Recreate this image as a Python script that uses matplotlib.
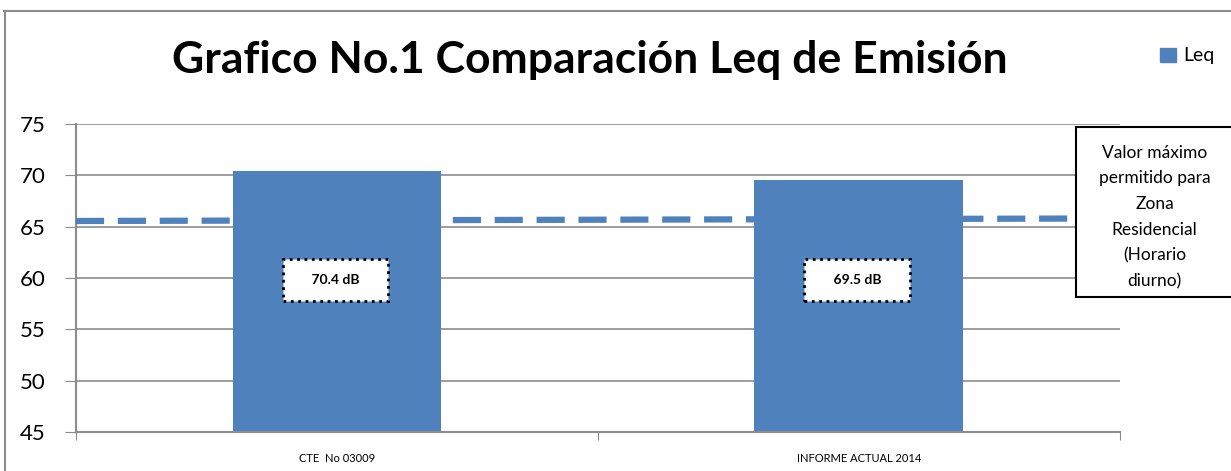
import matplotlib.pyplot as plt
from matplotlib.patches import Rectangle

plt.rcParams['font.family'] = ['Lato', 'DejaVu Sans']

# data
categories = ["CTE  No 03009", "INFORME ACTUAL 2014"]
leq = [70.4, 69.5]
bar_labels = ["70.4 dB", "69.5 dB"]
limit_x = [-0.5, 1.5]
limit_y = [65.55, 65.8]
y_ticks = [45, 50, 55, 60, 65, 70, 75]

blue = "#4F81BD"
grid_gray = "#8C8C8C"

fig = plt.figure(figsize=(12.31, 4.71), dpi=100)

# outer chart frame
fig.add_artist(plt.Line2D([0.003, 1.0], [0.977, 0.977], color="#8C8C8C", lw=1.5))
fig.add_artist(plt.Line2D([0.004, 0.004], [0.0, 0.977], color="#8C8C8C", lw=1.5))

ax = fig.add_axes([0.0617, 0.0828, 0.848, 0.654])
x = list(range(len(categories)))
ax.bar(x, leq, width=0.4, color=blue, zorder=2)
ax.plot(limit_x, limit_y, color=blue, lw=4.5, dashes=(4.5, 2.2), zorder=3)

for xi, lab in zip(x, bar_labels):
    ax.text(xi - 0.003, 59.8, "    " + lab + "    ", ha="center", va="center", fontsize=10,
            fontweight="bold", zorder=4,
            bbox=dict(boxstyle="square,pad=1.1", fc="white", ec="black", ls=":", lw=2))

ax.set_xlim(-0.5, 1.5)
ax.set_ylim(45, 75)
ax.set_yticks(y_ticks)
ax.set_yticklabels([str(v) for v in y_ticks], fontsize=16)
ax.set_xticks([-0.5, 0.5, 1.5])
ax.set_xticklabels([])
ax.set_xticks(x, minor=True)
ax.set_xticklabels(categories, minor=True, fontsize=8)
ax.tick_params(axis="x", which="minor", length=0, pad=15)
ax.tick_params(axis="x", which="major", length=6, color=grid_gray, direction="out")
ax.tick_params(axis="y", length=8, color=grid_gray, pad=14)
ax.yaxis.grid(True, color=grid_gray, lw=1.2, zorder=0)
ax.set_axisbelow(True)
for s in ["top", "right"]:
    ax.spines[s].set_visible(False)
ax.spines["left"].set_color(grid_gray)
ax.spines["bottom"].set_color(grid_gray)
ax.spines["left"].set_linewidth(1.5)
ax.spines["bottom"].set_linewidth(1.5)

fig.text(0.479, 0.873, "Grafico No.1 Comparación Leq de Emisión", ha="center", va="center",
         fontsize=32, fontweight="bold")

# legend
fig.add_artist(Rectangle((0.9425, 0.868), 0.013, 0.030, color=blue, transform=fig.transFigure))
fig.text(0.961, 0.882, "Leq", ha="left", va="center", fontsize=14)

# annotation box
fig.add_artist(Rectangle((0.874, 0.369), 0.2, 0.361, fc="white", ec="black", lw=1.5,
                         transform=fig.transFigure, zorder=5))
fig.text(0.938, 0.539, "Valor máximo\npermitido para\nZona\nResidencial\n(Horario\ndiurno)",
         ha="center", va="center", fontsize=12.5, linespacing=1.75, zorder=6)

fig.savefig("out.png", dpi=100)
